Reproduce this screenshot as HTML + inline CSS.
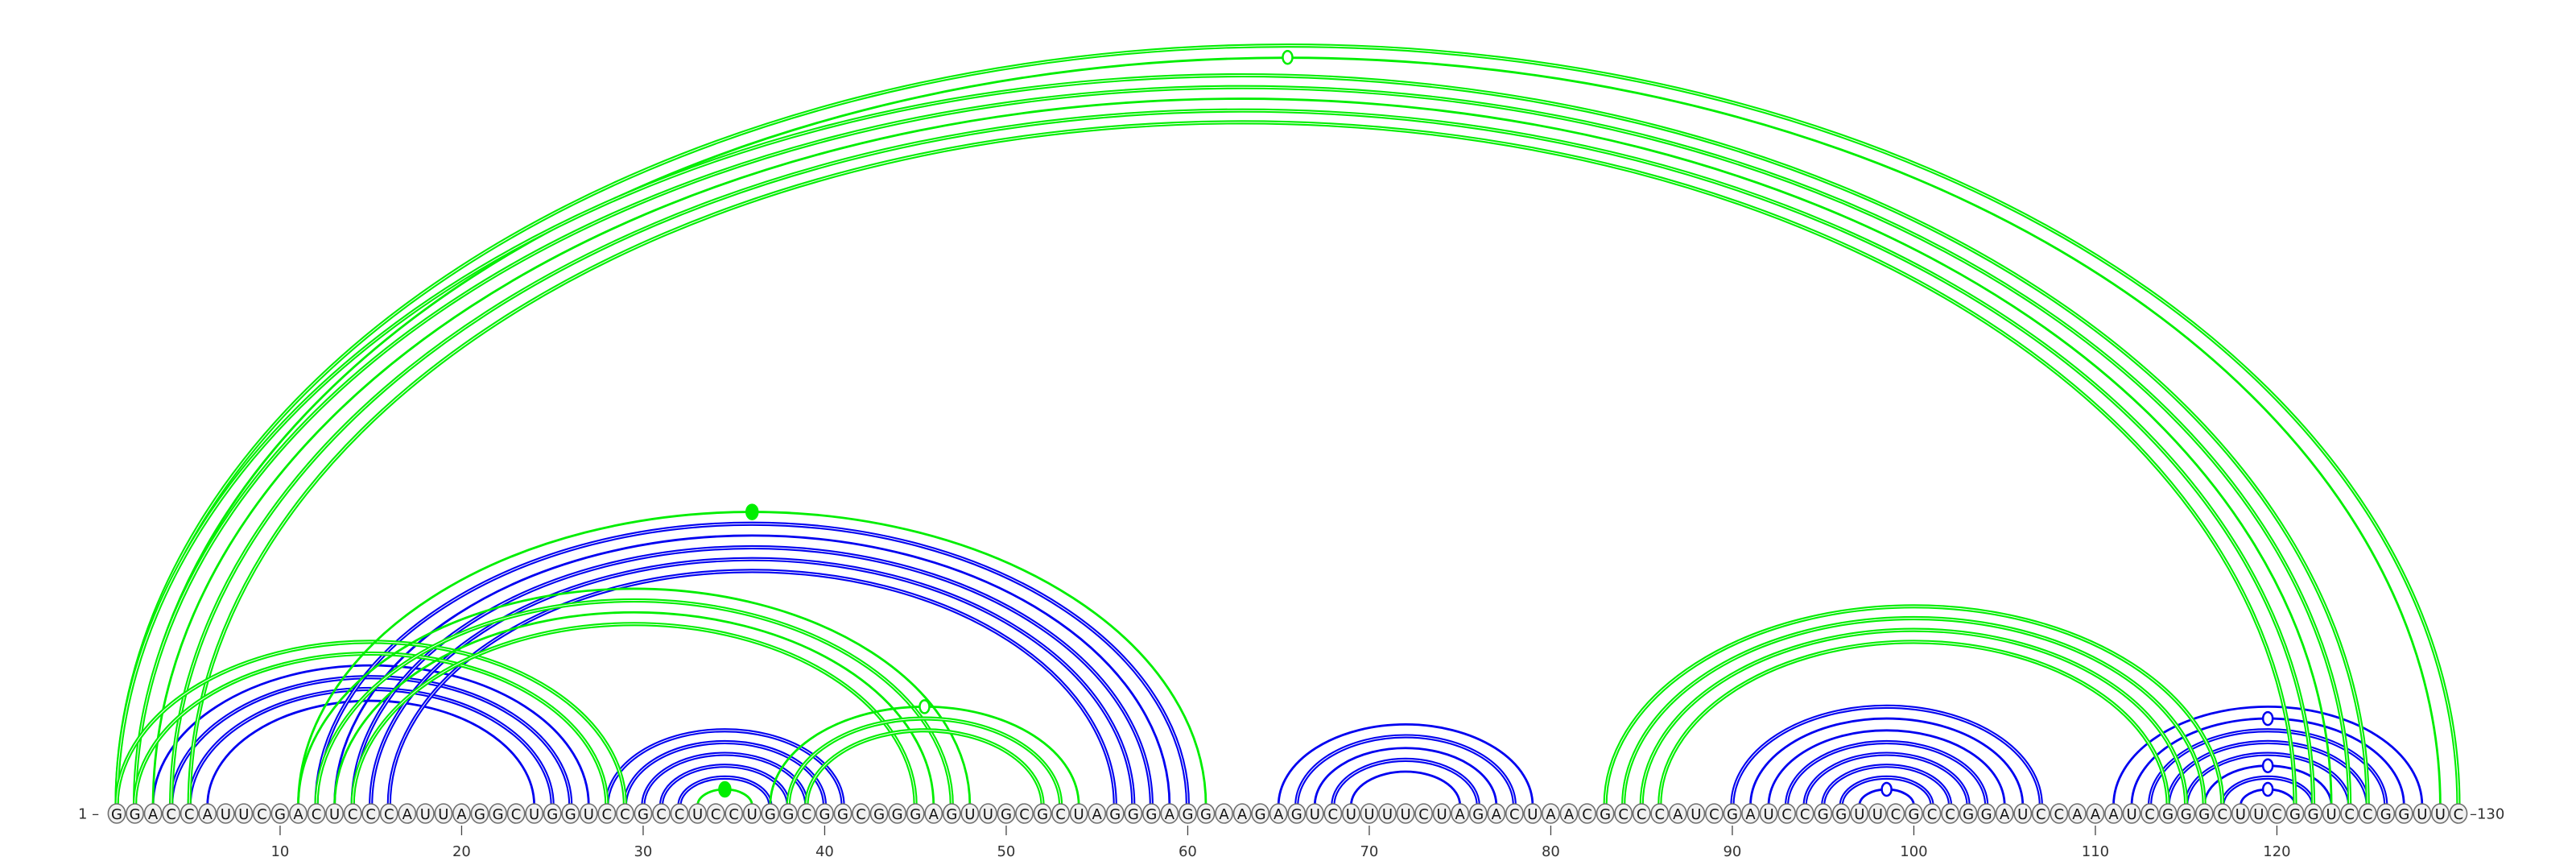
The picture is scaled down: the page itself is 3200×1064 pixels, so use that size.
<!DOCTYPE html>
<html>
<head>
<meta charset="utf-8">
<style>
  html, body { margin: 0; padding: 0; background: #ffffff; }
  #chart { display: block; }
</style>
</head>
<body>
<svg id="chart" width="3200" height="1064" viewBox="0 0 3200 1064" xmlns="http://www.w3.org/2000/svg">
  <g id="arcs-blue"></g>
  <g id="arcs-green"></g>
  <g id="bases"></g>
  <g id="axis"></g>
</svg>
<script>
const sequence = "GGACCAUUCGACUCCCAUUAGGCUGGUCCGCCUCCUGGCGGCGGGAGUUGCGCUAGGGAGGAAGAGUCUUUUCUAGACUAACGCCCAUCGAUCCGGUUCGCCGGAUCCAAAUCGGGCUUCGGUCCGGUUC";
const tickLabels = [10, 20, 30, 40, 50, 60, 70, 80, 90, 100, 110, 120];

const blueI = [3,4,5,6, 12,13,14,15,16, 28,29,30,31,32, 65,66,67,68,69, 90,91,92,93,94,95,96,97, 111,112,113,114,115,116,117,118];
const blueJ = [27,26,25,24, 60,59,58,57,56, 41,40,39,38,37, 79,78,77,76,75, 107,106,105,104,103,102,101,100, 128,127,126,125,124,123,122,121];
const blueStyle = ['s','d','d','s', 'd','s','d','d','d', 'd','d','d','d','d', 's','d','s','d','s', 'd','s','s','d','d','d','d','m', 's','m','d','d','d','m','d','m'];

const greenI = [1,2,1,2,3,4,5, 1,2, 11,11,12,13,14, 33,37,38,39, 83,84,85,86];
const greenJ = [130,129,125,124,123,122,121, 29,28, 61,48,47,46,45, 36,54,53,52, 117,116,115,114];
const greenStyle = ['d','m','d','d','s','d','d', 'd','d', 'f','s','d','s','d', 'f','m','d','d', 'd','d','d','d'];

const NS = "http://www.w3.org/2000/svg";
const X0 = 145, DX = 22.55, BASE_Y = 1010, ARC_Y = 1000;
function xOf(p) { return X0 + (p - 1) * DX; }
function arcHalf(i, j) { return (xOf(j) - xOf(i)) / 2; }
function arcTop(i, j) { return BASE_Y - (0.65 * arcHalf(i, j) + 8); }

function mk(tag, attrs, parent) {
  const el = document.createElementNS(NS, tag);
  for (const k in attrs) el.setAttribute(k, attrs[k]);
  parent.appendChild(el);
  return el;
}

function drawArcs(groupId, I, J, S, color, prefix) {
  const g = document.getElementById(groupId);
  for (let k = 0; k < I.length; k++) {
    const i = I[k], j = J[k], st = S[k];
    const x1 = xOf(i), x2 = xOf(j);
    const rx = arcHalf(i, j);
    const top = arcTop(i, j);
    const ry = ARC_Y - top;
    const d = `M ${x1} ${ARC_Y} A ${rx} ${ry} 0 0 1 ${x2} ${ARC_Y}`;
    const grp = mk('g', {}, g);
    
    
    if (st === 'd') {
      mk('path', { d: d, fill: 'none', stroke: color, 'stroke-width': 5.2 }, grp);
      mk('path', { d: d, fill: 'none', stroke: '#ffffff', 'stroke-width': 1.0 }, grp);
    } else {
      mk('path', { d: d, fill: 'none', stroke: color, 'stroke-width': 2.8 }, grp);
    }
    if (st === 'm' || st === 'f') {
      const cx = (x1 + x2) / 2;
      const mark = mk('ellipse', {
        cx: cx, cy: top, rx: st === 'f' ? 7 : 6, ry: st === 'f' ? 9 : 8,
        fill: st === 'f' ? color : '#ffffff', stroke: color, 'stroke-width': 2.5
      }, grp);
      
      
    }
  }
}

drawArcs('arcs-blue', blueI, blueJ, blueStyle, '#0000f0', 'blue');
drawArcs('arcs-green', greenI, greenJ, greenStyle, '#00ee00', 'green');

// bases
const bg = document.getElementById('bases');
for (let p = 1; p <= sequence.length; p++) {
  const x = xOf(p);
  const nb = mk('g', {}, bg);
  
  
  mk('ellipse', { cx: x, cy: BASE_Y, rx: 10.6, ry: 12, fill: '#f1f1f1', stroke: '#6e6e6e', 'stroke-width': 1.6 }, nb);
  const t = mk('text', {
    x: x, y: BASE_Y + 7, 'text-anchor': 'middle',
    'font-family': '"DejaVu Sans", "Liberation Sans", sans-serif', 'font-size': 18, fill: '#111'
  }, nb);
  t.textContent = sequence[p - 1];
}

// axis
const ax = document.getElementById('axis');
const startLbl = mk('text', { x: 97, y: BASE_Y + 6.5, 'font-family': '"DejaVu Sans", "Liberation Sans", sans-serif', 'font-size': 18, fill: '#333' }, ax);
startLbl.textContent = '1 \u2013';


const endLbl = mk('text', { x: xOf(sequence.length) + 14, y: BASE_Y + 6.5, 'font-family': '"DejaVu Sans", "Liberation Sans", sans-serif', 'font-size': 18, fill: '#333' }, ax);
endLbl.textContent = '\u2013' + sequence.length;



for (let k = 0; k < tickLabels.length; k++) {
  const v = tickLabels[k];
  const x = xOf(v);
  const tick = mk('line', { x1: x, y1: 1025, x2: x, y2: 1037, stroke: '#444', 'stroke-width': 1.3 }, ax);
  
  
  const lbl = mk('text', { x: x, y: 1063, 'text-anchor': 'middle', 'font-family': '"DejaVu Sans", "Liberation Sans", sans-serif', 'font-size': 18, fill: '#333' }, ax);
  lbl.textContent = v;
  
  
}
</script>
</body>
</html>
